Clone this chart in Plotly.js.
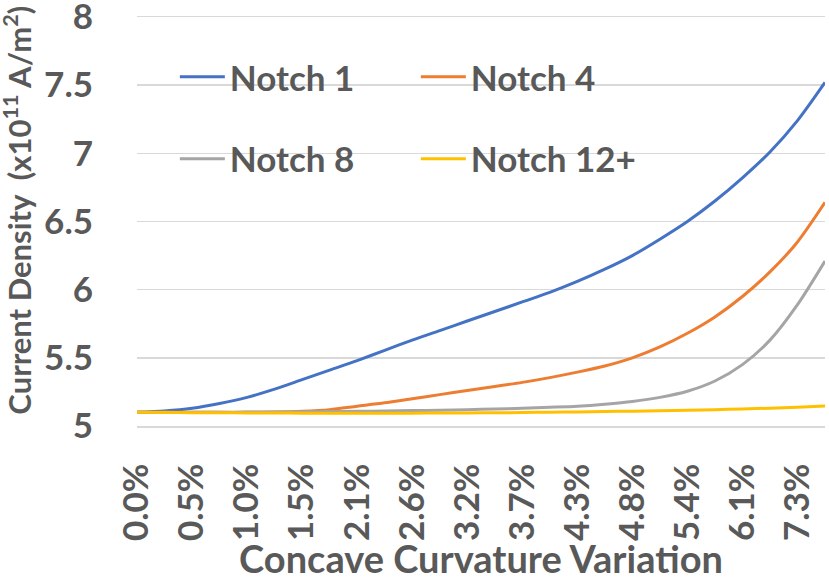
<!DOCTYPE html>
<html>
<head>
<meta charset="utf-8">
<script src="https://cdn.plot.ly/plotly-3.0.1.min.js"></script>
<style>
  html, body { margin: 0; padding: 0; background: #ffffff; }
  #chart { width: 829px; height: 581px; }
</style>
</head>
<body>
<div id="chart"></div>
<script>
// curvature steps; every second one is labelled on the axis
const categories = [
  "0.0%", "0.3%", "0.5%", "0.8%", "1.0%", "1.3%", "1.5%", "1.8%", "2.1%", "2.4%",
  "2.6%", "2.9%", "3.2%", "3.4%", "3.7%", "4.0%", "4.3%", "4.5%", "4.8%", "5.1%",
  "5.4%", "5.7%", "6.1%", "6.7%", "7.3%", "8.0%"
];

const notch1 = [5.100, 5.110, 5.130, 5.165, 5.210, 5.270, 5.340, 5.410, 5.480, 5.555,
  5.630, 5.700, 5.770, 5.840, 5.910, 5.980, 6.060, 6.150, 6.250, 6.370,
  6.500, 6.650, 6.820, 7.010, 7.240, 7.520];
const notch4 = [5.100, 5.100, 5.100, 5.100, 5.100, 5.102, 5.108, 5.120, 5.145, 5.170,
  5.200, 5.230, 5.260, 5.290, 5.320, 5.355, 5.395, 5.440, 5.500, 5.580,
  5.680, 5.800, 5.950, 6.130, 6.350, 6.640];
const notch8 = [5.100, 5.100, 5.100, 5.101, 5.102, 5.103, 5.104, 5.106, 5.108, 5.110,
  5.113, 5.116, 5.120, 5.125, 5.130, 5.137, 5.145, 5.160, 5.180, 5.210,
  5.255, 5.330, 5.450, 5.630, 5.890, 6.210];
const notch12 = [5.100, 5.099, 5.098, 5.097, 5.096, 5.095, 5.094, 5.094, 5.094, 5.094,
  5.094, 5.095, 5.096, 5.097, 5.099, 5.101, 5.103, 5.106, 5.109, 5.112,
  5.116, 5.120, 5.125, 5.131, 5.138, 5.146];

const FONT = "Lato, 'Open Sans', sans-serif";
const TEXT = "#595959";
const GRID = "#d9d9d9";

function series(name, values, color, legend) {
  return {
    x: categories,
    y: values,
    name: name,
    type: "scatter",
    mode: "lines",
    line: { color: color, width: 3, shape: "spline", smoothing: 0.8 },
    legend: legend,
    hoverinfo: "skip",
  };
}

const traces = [
  series("Notch 1", notch1, "#4472c4", "legend"),
  series("Notch 4", notch4, "#ed7d31", "legend"),
  series("Notch 8", notch8, "#a5a5a5", "legend2"),
  series("Notch 12+", notch12, "#ffc000", "legend2"),
];

const legendBase = {
  orientation: "h",
  xanchor: "left",
  yanchor: "middle",
  x: 0.055,
  bgcolor: "rgba(0,0,0,0)",
  font: { family: FONT, size: 35, color: TEXT, weight: 700 },
  itemwidth: 45,
  entrywidth: 181,
  entrywidthmode: "pixels",
};

const layout = {
  width: 829,
  height: 581,
  margin: { l: 137, r: 4, t: 17, b: 155 },
  paper_bgcolor: "#ffffff",
  plot_bgcolor: "#ffffff",
  font: { family: FONT, size: 35, color: TEXT, weight: 700 },
  showlegend: true,
  legend: { ...legendBase, y: 0.853 },
  legend2: { ...legendBase, y: 0.653 },
  xaxis: {
    type: "category",
    range: [0, categories.length - 1],
    tickmode: "linear",
    tick0: 0,
    dtick: 2,
    tickangle: -90,
    ticks: "outside",
    ticklen: 22,
    tickcolor: "rgba(0,0,0,0)",
    showgrid: false,
    showline: true,
    mirror: true,
    linecolor: GRID,
    linewidth: 1.5,
    zeroline: false,
    tickfont: { family: FONT, size: 35, color: TEXT, weight: 700 },
    title: {
      text: "Concave Curvature Variation",
      font: { family: FONT, size: 38, color: TEXT, weight: 700 },
      standoff: 7,
    },
  },
  yaxis: {
    range: [5, 8],
    tickmode: "linear",
    tick0: 5,
    dtick: 0.5,
    ticks: "outside",
    ticklen: 36,
    tickcolor: "rgba(0,0,0,0)",
    ticklabeloverflow: "allow",
    showgrid: true,
    gridcolor: GRID,
    gridwidth: 1.5,
    zeroline: false,
    showline: false,
    tickfont: { family: FONT, size: 35, color: TEXT, weight: 700 },
  },
  annotations: [
    {
      // y axis title, placed a little above the plot centre as in the source
      text: "Current Density \u00a0(x10<sup>11</sup> A/m<sup>2</sup>)",
      xref: "paper",
      yref: "paper",
      x: -0.175,
      y: 0.528,
      xanchor: "center",
      yanchor: "middle",
      textangle: -90,
      showarrow: false,
      font: { family: FONT, size: 31, color: TEXT, weight: 700 },
    },
  ],
};

Plotly.newPlot("chart", traces, layout, { displayModeBar: false, staticPlot: true });
</script>
</body>
</html>
